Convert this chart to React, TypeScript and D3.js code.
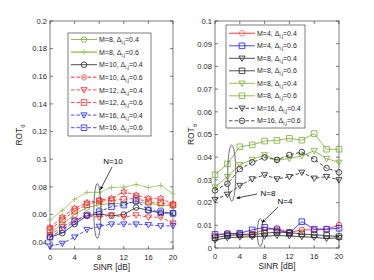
import * as d3 from "d3";

type Marker = "o" | "+" | "s" | "v" | "h";
type Series = {
  label: string;
  delta: string;
  values: number[];
  color: string;
  legendColor?: string;
  dashed: boolean;
  marker: Marker;
};

const sinr = [0, 2, 4, 6, 8, 10, 12, 14, 16, 18, 20];
const xTicks = [0, 4, 8, 12, 16, 20];
const leftYTicks = [0.04, 0.06, 0.08, 0.1, 0.12, 0.14, 0.16, 0.18, 0.2];
const rightYTicks = [0, 0.01, 0.02, 0.03, 0.04, 0.05, 0.06, 0.07, 0.08, 0.09, 0.1];

// left panel (N=10)
const m8d04 = [0.047, 0.053, 0.06, 0.065, 0.067, 0.068, 0.068, 0.069, 0.068, 0.067, 0.066];
const m8d06 = [0.056, 0.063, 0.071, 0.076, 0.076, 0.0795, 0.0798, 0.0817, 0.0795, 0.081, 0.075];
const m10d04 = [0.0436, 0.0465, 0.053, 0.059, 0.0604, 0.059, 0.06, 0.065, 0.063, 0.061, 0.061];
const m10d06 = [0.0505, 0.058, 0.0644, 0.0685, 0.0704, 0.0716, 0.0764, 0.074, 0.0716, 0.0716, 0.0675];
const m12d04 = [0.045, 0.051, 0.056, 0.059, 0.058, 0.0596, 0.058, 0.0596, 0.058, 0.058, 0.0537];
const m12d06 = [0.049, 0.056, 0.0625, 0.067, 0.0697, 0.07, 0.071, 0.0716, 0.069, 0.0685, 0.067];
const m16d04 = [0.037, 0.039, 0.0436, 0.049, 0.0513, 0.053, 0.053, 0.053, 0.0525, 0.0517, 0.0517];
const m16d06 = [0.0436, 0.0489, 0.0549, 0.0596, 0.062, 0.0656, 0.0668, 0.07, 0.0632, 0.062, 0.0608];

// right panel (N=4, N=8)
const n4m4d04 = [0.0054, 0.0065, 0.006, 0.0062, 0.008, 0.0087, 0.0068, 0.008, 0.008, 0.0083, 0.0101];
const n4m4d06 = [0.006, 0.0062, 0.0065, 0.008, 0.0091, 0.008, 0.0065, 0.0116, 0.0083, 0.0083, 0.0087];
const n4m8d04 = [0.0035, 0.0045, 0.0048, 0.005, 0.0052, 0.0055, 0.0053, 0.005, 0.0047, 0.0042, 0.0045];
const n4m8d06 = [0.0045, 0.0055, 0.0058, 0.0058, 0.0065, 0.007, 0.0068, 0.0062, 0.0058, 0.0055, 0.005];
const n8m8d04 = [0.0268, 0.0314, 0.0367, 0.039, 0.041, 0.0387, 0.0394, 0.0406, 0.0428, 0.0394, 0.0377];
const n8m8d06 = [0.0323, 0.037, 0.0446, 0.0454, 0.0471, 0.0474, 0.0483, 0.0475, 0.0504, 0.0435, 0.0435];
const n8m16d04 = [0.0213, 0.0236, 0.0275, 0.0304, 0.0322, 0.0304, 0.0314, 0.0333, 0.0307, 0.0314, 0.03];
const n8m16d06 = [0.0254, 0.0283, 0.0348, 0.0377, 0.0399, 0.0388, 0.041, 0.0423, 0.0391, 0.0352, 0.0333];

const green = "#77ac30";
const lightGreen = "#97c460";
const red = "#ff2020";
const lightRed = "#ff7070";
const blue = "#1a1aff";
const black = "#222222";

const leftSeries: Series[] = [
  { label: "M=8", delta: "0.4", values: m8d04, color: green, dashed: false, marker: "o" },
  { label: "M=8", delta: "0.6", values: m8d06, color: lightGreen, dashed: false, marker: "+" },
  { label: "M=10", delta: "0.4", values: m10d04, color: black, dashed: false, marker: "o" },
  { label: "M=10", delta: "0.6", values: m10d06, color: red, legendColor: lightRed, dashed: true, marker: "h" },
  { label: "M=12", delta: "0.4", values: m12d04, color: red, dashed: true, marker: "v" },
  { label: "M=12", delta: "0.6", values: m12d06, color: red, dashed: true, marker: "s" },
  { label: "M=16", delta: "0.4", values: m16d04, color: blue, dashed: true, marker: "v" },
  { label: "M=16", delta: "0.6", values: m16d06, color: blue, dashed: true, marker: "s" }
];

const rightSeries: Series[] = [
  { label: "M=4", delta: "0.4", values: n4m4d04, color: red, legendColor: lightRed, dashed: false, marker: "o" },
  { label: "M=4", delta: "0.6", values: n4m4d06, color: blue, dashed: false, marker: "s" },
  { label: "M=8", delta: "0.4", values: n4m8d04, color: black, dashed: false, marker: "v" },
  { label: "M=8", delta: "0.6", values: n4m8d06, color: black, dashed: false, marker: "s" },
  { label: "M=8", delta: "0.4", values: n8m8d04, color: green, dashed: false, marker: "v" },
  { label: "M=8", delta: "0.6", values: n8m8d06, color: green, dashed: false, marker: "s" },
  { label: "M=16", delta: "0.4", values: n8m16d04, color: black, dashed: true, marker: "v" },
  { label: "M=16", delta: "0.6", values: n8m16d06, color: black, dashed: true, marker: "o" }
];

const axisColor = "#262626";
const font = "'Liberation Sans', Arial, sans-serif";

function markerPath(kind: Marker, r = 2.8) {
  switch (kind) {
    case "o":
      return d3.symbol(d3.symbolCircle, Math.PI * r * r)() ?? "";
    case "s":
      return `M${-r},${-r}H${r}V${r}H${-r}Z`;
    case "+":
      return `M${-r},0H${r}M0,${-r}V${r}`;
    case "v":
      return `M${-r * 1.1},${-r * 0.8}H${r * 1.1}L0,${r * 1.1}Z`;
    case "h": {
      const pts = d3.range(12).map((i) => {
        const a = (i * Math.PI) / 6 - Math.PI / 2;
        const rr = i % 2 === 0 ? r * 1.2 : r * 0.65;
        return [rr * Math.cos(a), rr * Math.sin(a)];
      });
      return `M${pts.map((p) => p.join(",")).join("L")}Z`;
    }
  }
}

function Mark({ kind, x, y, color }: { kind: Marker; x: number; y: number; color: string }) {
  return (
    <path d={markerPath(kind)} transform={`translate(${x},${y})`} fill="none" stroke={color} strokeWidth={0.8} />
  );
}

type PanelProps = {
  left: number;
  right: number;
  top: number;
  bottom: number;
  yDomain: [number, number];
  yTicks: number[];
  series: Series[];
  legend: { x: number; y: number; w: number; h: number; row0: number; step: number };
  labelX: number;
};

function Panel({ left, right, top, bottom, yDomain, yTicks, series, legend, labelX }: PanelProps) {
  const x = d3.scaleLinear([0, 20], [left, right]);
  const y = d3.scaleLinear(yDomain, [bottom, top]);
  const line = d3
    .line<number>()
    .x((_, i) => x(sinr[i]))
    .y((v) => y(v));
  const fmt = (v: number) => String(+v.toFixed(3));

  return (
    <g fontFamily={font}>
      <rect x={left} y={top} width={right - left} height={bottom - top} fill="#fff" stroke={axisColor} strokeWidth={0.6} />
      {yTicks.map((t) => (
        <g key={t}>
          <line x1={left} x2={left + 3} y1={y(t)} y2={y(t)} stroke={axisColor} strokeWidth={0.6} />
          <line x1={right} x2={right - 3} y1={y(t)} y2={y(t)} stroke={axisColor} strokeWidth={0.6} />
          <text x={left - 3} y={y(t) + 2.8} fontSize={7.6} textAnchor="end" fill={axisColor}>
            {fmt(t)}
          </text>
        </g>
      ))}
      {xTicks.map((t) => (
        <g key={t}>
          <line x1={x(t)} x2={x(t)} y1={bottom} y2={bottom - 3} stroke={axisColor} strokeWidth={0.6} />
          <line x1={x(t)} x2={x(t)} y1={top} y2={top + 3} stroke={axisColor} strokeWidth={0.6} />
          <text x={x(t)} y={bottom + 11} fontSize={7.6} textAnchor="middle" fill={axisColor}>
            {t}
          </text>
        </g>
      ))}
      <text x={(left + right) / 2} y={bottom + 21} fontSize={8.4} textAnchor="middle" fill={axisColor}>
        SINR [dB]
      </text>
      <text
        transform={`translate(${labelX},${(top + bottom) / 2}) rotate(-90)`}
        fontSize={8.4}
        textAnchor="middle"
        fill={axisColor}
      >
        ROT
        <tspan fontSize={6} dy={2.5}>θ</tspan>
      </text>
      {series.map((s, si) => (
        <g key={si}>
          <path
            d={line(s.values) ?? undefined}
            fill="none"
            stroke={s.color}
            strokeWidth={0.8}
            strokeDasharray={s.dashed ? "3.5,2" : undefined}
          />
          {s.values.map((v, i) => (
            <Mark key={i} kind={s.marker} x={x(sinr[i])} y={y(v)} color={s.color} />
          ))}
        </g>
      ))}
      <rect x={legend.x} y={legend.y} width={legend.w} height={legend.h} fill="#fff" stroke={axisColor} strokeWidth={0.6} />
      {series.map((s, i) => {
        const ly = legend.row0 + i * legend.step;
        const c = s.legendColor ?? s.color;
        return (
          <g key={i}>
            <line
              x1={legend.x + 3}
              x2={legend.x + 29}
              y1={ly}
              y2={ly}
              stroke={c}
              strokeWidth={s.legendColor || s.marker === "+" ? 1.4 : 0.8}
              strokeDasharray={s.dashed ? "3.5,2" : undefined}
            />
            <Mark kind={s.marker} x={legend.x + 16} y={ly} color={c} />
            <text x={legend.x + 31} y={ly + 2.6} fontSize={7} fill={axisColor}>
              {`${s.label}, Δ`}
              <tspan fontSize={5} dy={2}>i,j</tspan>
              <tspan dy={-2}>{`=${s.delta}`}</tspan>
            </text>
          </g>
        );
      })}
    </g>
  );
}

export default function App() {
  const lx = d3.scaleLinear([0, 20], [50, 173]);
  const ly = d3.scaleLinear([0.035, 0.2], [249, 21]);
  const rx = d3.scaleLinear([0, 20], [215, 339]);
  const ry = d3.scaleLinear([0, 0.1], [248, 21]);

  return (
    <svg width={374} height={280} style={{ position: "absolute", left: 0, top: 0 }}>
      <rect width={374} height={280} fill="#fff" />
      <defs>
        <marker id="ah" viewBox="0 0 10 10" refX="9" refY="5" markerWidth="6" markerHeight="6" orient="auto">
          <path d="M0,1L10,5L0,9L3,5Z" fill="#000" />
        </marker>
      </defs>
      <Panel
        left={50}
        right={173}
        top={21}
        bottom={249}
        yDomain={[0.035, 0.2]}
        yTicks={leftYTicks}
        series={leftSeries}
        legend={{ x: 68, y: 33, w: 83, h: 103, row0: 39.5, step: 12.6 }}
        labelX={22}
      />
      <Panel
        left={215}
        right={339}
        top={21}
        bottom={248}
        yDomain={[0, 0.1]}
        yTicks={rightYTicks}
        series={rightSeries}
        legend={{ x: 226, y: 25, w: 79, h: 103, row0: 33.3, step: 12.5 }}
        labelX={194}
      />
      {/* annotations */}
      <g fontFamily={font} fontSize={8} fill="#000">
        <ellipse cx={lx(7.7)} cy={ly(0.0625)} rx={3.5} ry={27.5} fill="none" stroke="#333" strokeWidth={0.7} />
        <text x={113} y={164} textAnchor="middle">N=10</text>
        <line x1={112} y1={167} x2={lx(8.2)} y2={ly(0.078)} stroke="#000" strokeWidth={0.7} markerEnd="url(#ah)" />

        <ellipse cx={rx(2.7)} cy={ry(0.033)} rx={4} ry={28} fill="none" stroke="#333" strokeWidth={0.7} />
        <text x={268} y={196} textAnchor="middle">N=8</text>
        <line x1={257} y1={194} x2={rx(3.5)} y2={ry(0.022)} stroke="#000" strokeWidth={0.7} markerEnd="url(#ah)" />

        <ellipse cx={rx(7.3)} cy={ry(0.0068)} rx={3} ry={14} fill="none" stroke="#333" strokeWidth={0.7} />
        <text x={285} y={204} textAnchor="middle">N=4</text>
        <line x1={278} y1={207} x2={rx(7.6)} y2={ry(0.0112)} stroke="#000" strokeWidth={0.7} markerEnd="url(#ah)" />
      </g>
    </svg>
  );
}
